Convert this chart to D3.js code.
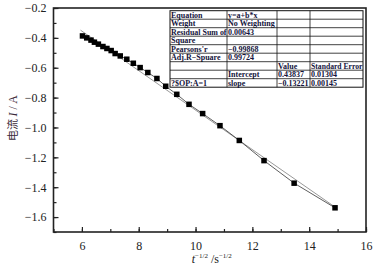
<!DOCTYPE html>
<html>
<head>
<meta charset="utf-8">
<script src="https://cdn.jsdelivr.net/npm/d3@7/dist/d3.min.js"></script>
<style>
  body { margin: 0; background: #fff; }
  svg text { font-family: "Liberation Serif", "DejaVu Serif", serif; }
</style>
</head>
<body>
<div id="chart"></div>
<script>
// t^-1/2 values and current values
const xVals = [6.02, 6.17, 6.32, 6.44, 6.58, 6.74, 6.88, 7.03, 7.17, 7.35, 7.58, 7.81,
  8.05, 8.32, 8.64, 8.95, 9.34, 9.77, 10.25, 10.86, 11.54, 12.41, 13.47, 14.91];
const yVals = [-0.387, -0.400, -0.415, -0.429, -0.442, -0.458, -0.471, -0.485, -0.505,
  -0.521, -0.543, -0.570, -0.599, -0.632, -0.672, -0.724, -0.778, -0.845, -0.907,
  -0.988, -1.087, -1.222, -1.373, -1.538];
const intercept = 0.43837;
const slope = -0.13221;
const fitRange = [5.95, 14.95];

const xTicks = [6, 8, 10, 12, 14, 16];
const yTicks = [-0.2, -0.4, -0.6, -0.8, -1.0, -1.2, -1.4, -1.6];

// fit result table rows
const tableRows = [
  ["Equation", "y=a+b*x", "", ""],
  ["Weight", "No Weighting", "", ""],
  ["Residual Sum of", "0.00643", "", ""],
  ["Square", "", "", ""],
  ["Pearsons'r", "\u22120.99868", "", ""],
  ["Adj.R\u2212Spuare", "0.99724", "", ""],
  ["", "", "Value", "Standard Error"],
  ["", "Intercept", "0.43837", "0.01304"],
  ["?$OP:A=1", "slope", "\u22120.13221", "0.00145"]
];

const width = 378, height = 273;
const margin = { left: 53.5, right: 12, top: 8, bottom: 41 };
const innerW = width - margin.left - margin.right;
const innerH = height - margin.top - margin.bottom;

const svg = d3.select("#chart").append("svg")
  .attr("width", width)
  .attr("height", height);

const g = svg.append("g")
  .attr("transform", `translate(${margin.left},${margin.top})`);

const x = d3.scaleLinear().domain([5, 16]).range([0, innerW]);
const y = d3.scaleLinear().domain([-1.7, -0.2]).range([innerH, 0]);

const fmt = (d) => d3.format(".1f")(d).replace("-", "\u2212");
const fmtX = (d) => d3.format("d")(d);

// minor ticks
g.append("g")
  .attr("transform", `translate(0,${innerH})`)
  .call(d3.axisBottom(x).tickValues(d3.range(5, 16.01, 1)).tickSize(-3).tickFormat(""))
  .call((a) => a.select(".domain").remove());
g.append("g")
  .call(d3.axisLeft(y).tickValues(d3.range(-1.7, -0.19, 0.1)).tickSize(-3).tickFormat(""))
  .call((a) => a.select(".domain").remove());

// major ticks
const xAxis = g.append("g")
  .attr("transform", `translate(0,${innerH})`)
  .call(d3.axisBottom(x).tickValues(xTicks).tickSize(-5).tickPadding(9).tickFormat(fmtX));
const yAxis = g.append("g")
  .call(d3.axisLeft(y).tickValues(yTicks).tickSize(-5).tickPadding(7).tickFormat(fmt));

[xAxis, yAxis].forEach((a) => {
  a.select(".domain").remove();
  a.selectAll("text").attr("font-size", 12).attr("fill", "#222")
    .attr("font-family", "Liberation Serif, serif");
});
g.selectAll(".tick line").attr("stroke", "#222").attr("stroke-width", 1.2);

// frame
g.append("rect")
  .attr("width", innerW)
  .attr("height", innerH)
  .attr("fill", "none")
  .attr("stroke", "#222")
  .attr("stroke-width", 1.6);

// fit line
const fitLine = d3.line()
  .x((d) => x(d))
  .y((d) => y(intercept + slope * d));
g.append("path")
  .attr("d", fitLine(fitRange))
  .attr("fill", "none")
  .attr("stroke", "#999")
  .attr("stroke-width", 1);

// data line and points
const data = xVals.map((v, i) => ({ x: v, y: yVals[i] }));
const line = d3.line().x((d) => x(d.x)).y((d) => y(d.y));
g.append("path")
  .attr("d", line(data))
  .attr("fill", "none")
  .attr("stroke", "#333")
  .attr("stroke-width", 0.8);

g.selectAll(".pt").data(data).join("rect")
  .attr("class", "pt")
  .attr("x", (d) => x(d.x) - 2.75)
  .attr("y", (d) => y(d.y) - 2.75)
  .attr("width", 5.5)
  .attr("height", 5.5)
  .attr("fill", "#000");

// table
const colX = [170, 227, 277, 310, 363];
const rowH = 8.5;
const tableTop = 10.7;
const table = svg.append("g");
table.append("rect")
  .attr("x", colX[0]).attr("y", tableTop)
  .attr("width", colX[4] - colX[0]).attr("height", rowH * tableRows.length)
  .attr("fill", "#fff").attr("stroke", "#111").attr("stroke-width", 1);
tableRows.forEach((row, i) => {
  if (i > 0) {
    table.append("line")
      .attr("x1", colX[0]).attr("x2", colX[4])
      .attr("y1", tableTop + i * rowH).attr("y2", tableTop + i * rowH)
      .attr("stroke", "#111").attr("stroke-width", 0.8);
  }
  row.forEach((cell, j) => {
    if (!cell) return;
    const t = table.append("text")
      .attr("x", colX[j] + 1)
      .attr("y", tableTop + i * rowH + rowH - 1.4)
      .attr("font-size", 8)
      .attr("font-weight", "bold")
      .attr("fill", "#14143c")
      .text(cell);
    const maxW = colX[j + 1] - colX[j] - 1.5;
    if (t.node().getComputedTextLength() > maxW) {
      t.attr("textLength", maxW).attr("lengthAdjust", "spacingAndGlyphs");
    }
  });
});
colX.slice(1, 4).forEach((cx) => {
  table.append("line")
    .attr("x1", cx).attr("x2", cx)
    .attr("y1", tableTop).attr("y2", tableTop + rowH * tableRows.length)
    .attr("stroke", "#111").attr("stroke-width", 0.8);
});

// axis titles
const xt = svg.append("text")
  .attr("x", margin.left + innerW / 2 + 2)
  .attr("y", 263)
  .attr("text-anchor", "middle")
  .attr("font-size", 12)
  .attr("fill", "#222");
xt.append("tspan").attr("font-style", "italic").text("t");
xt.append("tspan").attr("font-size", 7).attr("dy", -5).text("\u22121/2");
xt.append("tspan").attr("dy", 5).text(" /s");
xt.append("tspan").attr("font-size", 7).attr("dy", -5).text("\u22121/2");

const yt = svg.append("text")
  .attr("transform", "translate(17,118) rotate(-90)")
  .attr("text-anchor", "middle")
  .attr("font-size", 12)
  .attr("fill", "#3a2a3a");
yt.append("tspan").attr("font-family", "Noto Sans CJK SC").attr("font-size", 11).text("电流 ");
yt.append("tspan").attr("font-style", "italic").text("I");
yt.append("tspan").text(" / A");
</script>
</body>
</html>
